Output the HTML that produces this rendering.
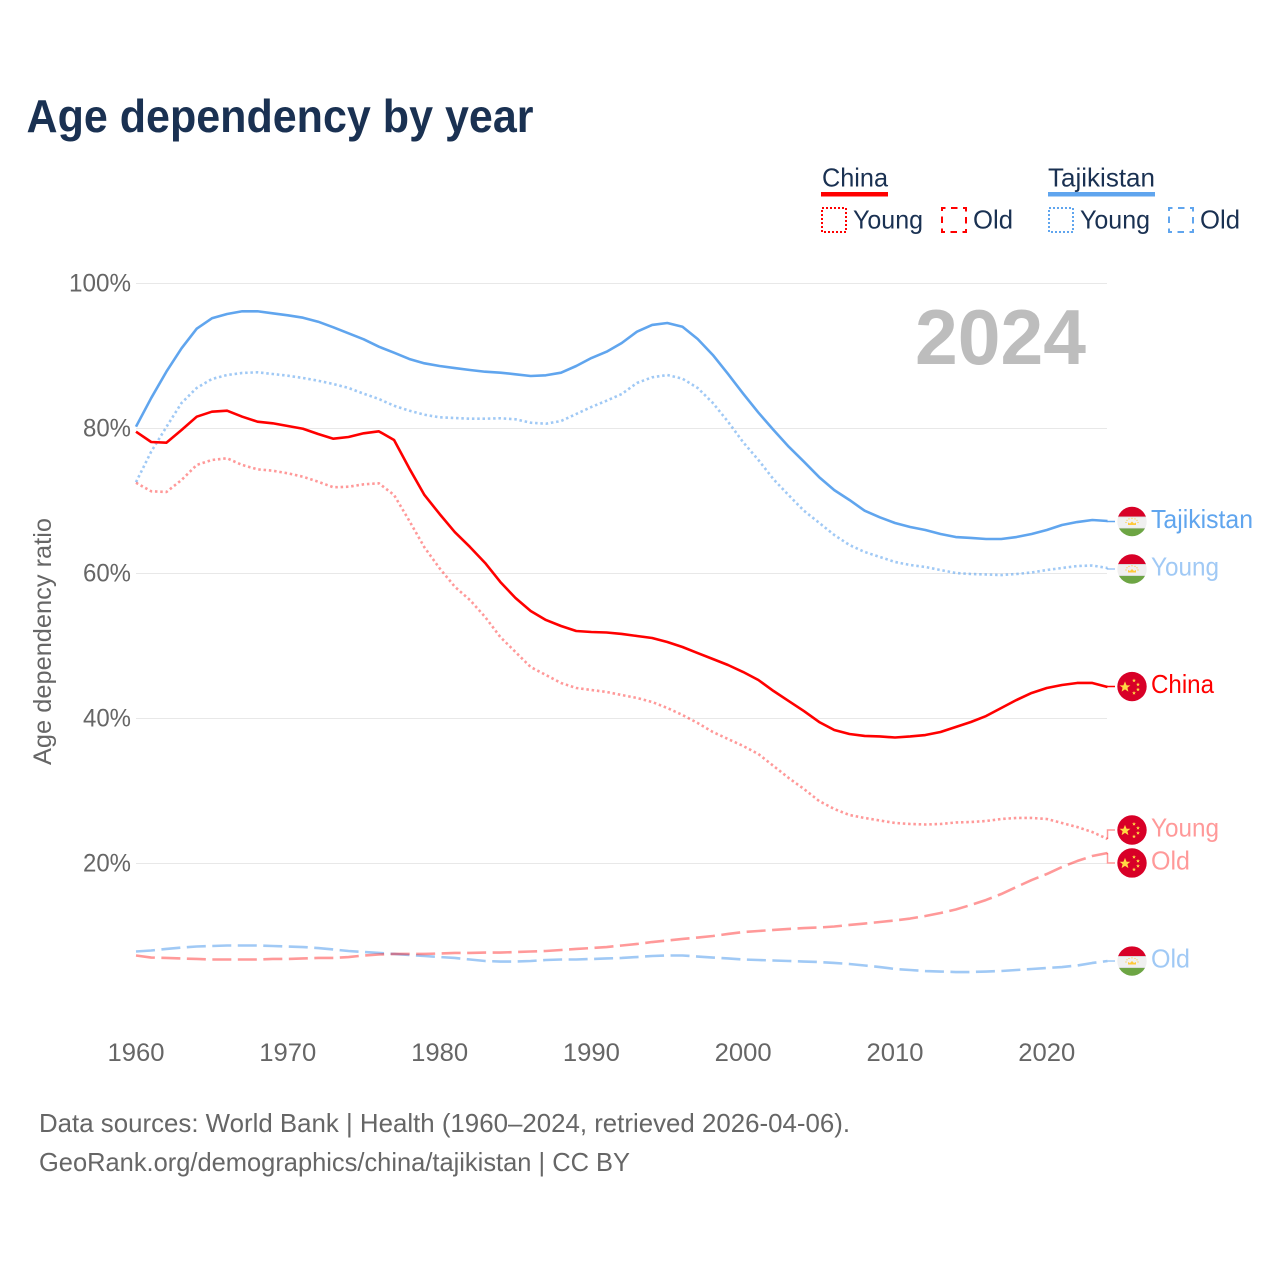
<!DOCTYPE html>
<html lang="en">
<head>
<meta charset="utf-8">
<title>Age dependency by year</title>
<style>
html,body{margin:0;padding:0;background:#fff;}
svg{display:block;font-family:"Liberation Sans",sans-serif;}
</style>
</head>
<body>
<svg id="chart" xmlns="http://www.w3.org/2000/svg" width="1280" height="1280" viewBox="0 0 1280 1280">
  <rect x="0" y="0" width="1280" height="1280" fill="#ffffff"/>
  <text x="26.5" y="132" font-size="46" font-weight="bold" fill="#1a3152" textLength="507" lengthAdjust="spacingAndGlyphs">Age dependency by year</text>

  <g font-size="26" fill="#1a3152">
    <text x="822" y="186.5" textLength="66" lengthAdjust="spacingAndGlyphs">China</text>
    <rect x="821" y="192" width="67" height="4.5" fill="#ff0000"/>
    <rect x="822" y="208" width="24" height="24" fill="none" stroke="#ff0000" stroke-width="2" stroke-dasharray="2 2"/>
    <text x="853" y="228.5" textLength="70" lengthAdjust="spacingAndGlyphs">Young</text>
    <rect x="942" y="208" width="24" height="24" fill="none" stroke="#ff0000" stroke-width="2" stroke-dasharray="6.5 5.5" stroke-dashoffset="3"/>
    <text x="973" y="228.5" textLength="40" lengthAdjust="spacingAndGlyphs">Old</text>
    <text x="1048" y="186.5" textLength="107" lengthAdjust="spacingAndGlyphs">Tajikistan</text>
    <rect x="1048" y="192" width="107" height="4.5" fill="#60a5ee"/>
    <rect x="1049" y="208" width="24" height="24" fill="none" stroke="#60a5ee" stroke-width="2" stroke-dasharray="2 2"/>
    <text x="1080" y="228.5" textLength="70" lengthAdjust="spacingAndGlyphs">Young</text>
    <rect x="1169" y="208" width="24" height="24" fill="none" stroke="#60a5ee" stroke-width="2" stroke-dasharray="6.5 5.5" stroke-dashoffset="3"/>
    <text x="1200" y="228.5" textLength="40" lengthAdjust="spacingAndGlyphs">Old</text>
  </g>

  <g id="grid"></g>
  <g id="yticks"></g>
  <g id="xticks"></g>
  <text transform="translate(51,641.5) rotate(-90)" text-anchor="middle" font-size="25" fill="#666666" textLength="247" lengthAdjust="spacingAndGlyphs">Age dependency ratio</text>
  <text x="915" y="364" font-size="78" font-weight="bold" fill="#bdbdbd" textLength="171" lengthAdjust="spacingAndGlyphs">2024</text>
  <g id="series"></g>
  <g id="labels"></g>

  <text x="39" y="1132" font-size="26" fill="#666666" textLength="811" lengthAdjust="spacingAndGlyphs">Data sources: World Bank | Health (1960–2024, retrieved 2026-04-06).</text>
  <text x="39" y="1171" font-size="26" fill="#666666" textLength="591" lengthAdjust="spacingAndGlyphs">GeoRank.org/demographics/china/tajikistan | CC BY</text>
</svg>
<script>
var startYear = 1960;
var xTickLabels = [1960, 1970, 1980, 1990, 2000, 2010, 2020];
var yTickLabels = [20, 40, 60, 80, 100];

var tajikistanTotal = [80.25,84.2,87.83,91.06,93.77,95.2,95.79,96.17,96.17,95.89,95.61,95.28,94.73,93.96,93.13,92.3,91.28,90.46,89.59,88.99,88.62,88.34,88.07,87.83,87.7,87.48,87.24,87.34,87.7,88.62,89.72,90.59,91.79,93.35,94.28,94.55,94.04,92.34,90.14,87.52,84.8,82.2,79.79,77.49,75.42,73.3,71.5,70.14,68.66,67.75,66.97,66.41,66.0,65.45,65.03,64.9,64.76,64.76,65.03,65.45,66.0,66.69,67.1,67.38,67.24];
var tajikistanYoung = [72.6,76.8,80.21,83.52,85.59,86.83,87.38,87.66,87.75,87.52,87.28,86.97,86.59,86.14,85.59,84.8,84.07,83.14,82.46,81.9,81.54,81.45,81.35,81.35,81.41,81.27,80.8,80.66,81.03,82.0,82.97,83.83,84.76,86.28,87.06,87.38,86.87,85.59,83.52,80.94,78.1,75.66,72.99,70.79,68.66,67.0,65.31,63.93,62.97,62.28,61.59,61.17,60.9,60.48,60.07,59.93,59.86,59.79,59.93,60.14,60.48,60.76,61.03,61.1,60.76];
var tajikistanOld = [7.86,8.0,8.21,8.41,8.55,8.62,8.69,8.69,8.69,8.62,8.55,8.48,8.34,8.14,7.93,7.79,7.66,7.52,7.38,7.24,7.10,6.97,6.76,6.55,6.48,6.48,6.55,6.69,6.76,6.76,6.83,6.9,6.97,7.10,7.24,7.31,7.31,7.17,7.03,6.9,6.76,6.69,6.62,6.55,6.48,6.41,6.28,6.14,5.93,5.72,5.45,5.31,5.17,5.1,5.03,5.03,5.1,5.17,5.31,5.45,5.59,5.72,5.93,6.28,6.55];
var chinaTotal = [79.56,78.14,78.04,79.79,81.63,82.32,82.46,81.63,80.94,80.72,80.34,79.97,79.24,78.59,78.83,79.34,79.61,78.41,74.51,70.83,68.21,65.72,63.66,61.45,58.83,56.62,54.83,53.59,52.76,52.07,51.93,51.86,51.66,51.38,51.1,50.55,49.86,49.03,48.21,47.38,46.41,45.31,43.79,42.41,41.03,39.52,38.41,37.86,37.59,37.52,37.38,37.52,37.72,38.14,38.83,39.52,40.34,41.45,42.55,43.52,44.21,44.62,44.9,44.9,44.34];
var chinaYoung = [72.52,71.34,71.24,72.9,74.97,75.66,75.89,74.97,74.37,74.18,73.82,73.35,72.66,71.89,71.97,72.3,72.44,70.83,67.28,63.61,60.72,58.18,56.34,54.0,51.24,49.17,47.1,46.0,44.9,44.21,43.93,43.66,43.24,42.83,42.28,41.45,40.48,39.38,38.14,37.17,36.21,35.1,33.45,31.79,30.28,28.62,27.52,26.69,26.28,25.93,25.59,25.45,25.38,25.45,25.66,25.72,25.86,26.14,26.28,26.28,26.14,25.59,25.03,24.34,23.38];
var chinaOld = [7.31,7.03,6.97,6.9,6.83,6.76,6.76,6.76,6.76,6.83,6.83,6.9,6.97,6.97,7.10,7.31,7.45,7.52,7.52,7.52,7.59,7.66,7.66,7.72,7.72,7.79,7.86,7.93,8.07,8.21,8.34,8.48,8.69,8.9,9.17,9.38,9.59,9.79,10.0,10.28,10.55,10.69,10.83,10.97,11.1,11.17,11.31,11.52,11.72,11.93,12.14,12.41,12.76,13.17,13.66,14.28,14.97,15.79,16.76,17.72,18.55,19.52,20.34,21.03,21.45];

var NS = 'http://www.w3.org/2000/svg';
function make(tag, attrs, parent) {
  var el = document.createElementNS(NS, tag);
  for (var k in attrs) { el.setAttribute(k, attrs[k]); }
  parent.appendChild(el);
  return el;
}
function xScale(year) { return 136 + (year - startYear) * 15.18; }
function yScale(v) { return 1008.5 - v * 7.25; }

var gridLayer = document.getElementById('grid');
var yLayer = document.getElementById('yticks');
var xLayer = document.getElementById('xticks');
var seriesLayer = document.getElementById('series');
var labelLayer = document.getElementById('labels');

yTickLabels.forEach(function (t) {
  var line = make('line', {x1: 136, x2: 1107, y1: yScale(t), y2: yScale(t), stroke: '#e8e8e8', 'stroke-width': 1}, gridLayer);
  
  
  var s = t + '%';
  var lab = make('text', {x: 131, y: yScale(t) + 8, 'text-anchor': 'end', 'font-size': 25, fill: '#666666', textLength: s.length === 4 ? 62 : 48, lengthAdjust: 'spacingAndGlyphs'}, yLayer);
  lab.textContent = s;
  
  
});

xTickLabels.forEach(function (t) {
  var lab = make('text', {x: xScale(t), y: 1061, 'text-anchor': 'middle', 'font-size': 25, fill: '#666666', textLength: 57, lengthAdjust: 'spacingAndGlyphs'}, xLayer);
  lab.textContent = String(t);
  
  
});

function drawChinaFlag(g) {
  make('circle', {cx: 0, cy: 0, r: 14.7, fill: '#d80027'}, g);
  var star = 'M0,-5.6L1.6,-1.7L5.4,-1.7L2.4,0.7L3.4,4.6L0,2.4L-3.4,4.6L-2.4,0.7L-5.4,-1.7L-1.6,-1.7Z';
  make('path', {d: star, fill: '#ffda44', transform: 'translate(-7,0.5)'}, g);
  [[2,-6],[6,-2],[6,3],[2,6.5]].forEach(function (p) {
    make('path', {d: star, fill: '#ffda44', transform: 'translate(' + p[0] + ',' + p[1] + ') scale(0.36)'}, g);
  });
}
var clipCounter = 0;
function drawTajikFlag(g) {
  clipCounter += 1;
  var id = 'tj-clip-' + clipCounter;
  var cp = make('clipPath', {id: id}, g);
  make('circle', {cx: 0, cy: 0, r: 14.7}, cp);
  var inner = make('g', {'clip-path': 'url(#' + id + ')'}, g);
  make('rect', {x: -15, y: -15, width: 30, height: 10.5, fill: '#d80027'}, inner);
  make('rect', {x: -15, y: -4.5, width: 30, height: 11.5, fill: '#f0f0f0'}, inner);
  make('rect', {x: -15, y: -5, width: 30, height: 0.7, fill: '#cfcfcf'}, inner);
  make('rect', {x: -15, y: 6.4, width: 30, height: 0.7, fill: '#cfcfcf'}, inner);
  make('rect', {x: -15, y: 7, width: 30, height: 8, fill: '#6da544'}, inner);
  make('path', {d: 'M-4,3.5L-4,1L-2,2L0,0L2,2L4,1L4,3.5Z', fill: '#ffc93a'}, inner);
  [[-6,1],[-5,-1.2],[-3,-2.6],[0,-3.2],[3,-2.6],[5,-1.2],[6,1]].forEach(function (p) {
    make('circle', {cx: p[0], cy: p[1], r: 0.6, fill: '#ffc93a'}, inner);
  });
}

var seriesList = [
  {key: 'tajikistan-total', values: tajikistanTotal, color: '#60a5ee', opacity: 1, dash: '', label: 'Tajikistan', width: 102, flag: drawTajikFlag, offset: 0.5},
  {key: 'tajikistan-young', values: tajikistanYoung, color: '#60a5ee', opacity: 0.6, dash: '2.5 2.8', label: 'Young', width: 68, flag: drawTajikFlag, offset: 1},
  {key: 'tajikistan-old', values: tajikistanOld, color: '#60a5ee', opacity: 0.6, dash: '19 6.5', label: 'Old', width: 39, flag: drawTajikFlag, offset: 0},
  {key: 'china-total', values: chinaTotal, color: '#ff0000', opacity: 1, dash: '', label: 'China', width: 63, flag: drawChinaFlag, offset: -0.5},
  {key: 'china-young', values: chinaYoung, color: '#ff0000', opacity: 0.4, dash: '2.5 2.8', label: 'Young', width: 68, flag: drawChinaFlag, offset: -9},
  {key: 'china-old', values: chinaOld, color: '#ff0000', opacity: 0.4, dash: '19 6.5', label: 'Old', width: 39, flag: drawChinaFlag, offset: 10}
];

seriesList.forEach(function (s) {
  var d = '';
  s.values.forEach(function (v, i) {
    d += (i ? 'L' : 'M') + xScale(startYear + i).toFixed(2) + ',' + yScale(v).toFixed(2);
  });
  var attrs = {d: d, fill: 'none', stroke: s.color, 'stroke-width': 2.6, 'stroke-opacity': s.opacity, 'stroke-linejoin': 'round'};
  if (s.dash) { attrs['stroke-dasharray'] = s.dash; }
  var path = make('path', attrs, seriesLayer);
  
  

  var last = s.values[s.values.length - 1];
  var yEnd = yScale(last);
  var yFlag = yEnd + s.offset;
  var xEnd = xScale(startYear + s.values.length - 1);

  var conn = make('path', {d: 'M' + xEnd + ',' + yEnd + 'L' + xEnd + ',' + yFlag + 'L1115,' + yFlag, fill: 'none', stroke: s.color, 'stroke-width': 1.5, 'stroke-opacity': s.opacity}, labelLayer);
  
  

  var flag = make('g', {transform: 'translate(1132,' + yFlag + ')'}, labelLayer);
  
  
  s.flag(flag);

  var text = make('text', {x: 1151, y: yFlag + 6.5, 'font-size': 26, fill: s.color, 'fill-opacity': s.opacity, textLength: s.width, lengthAdjust: 'spacingAndGlyphs'}, labelLayer);
  text.textContent = s.label;
  
  
});
</script>
</body>
</html>
